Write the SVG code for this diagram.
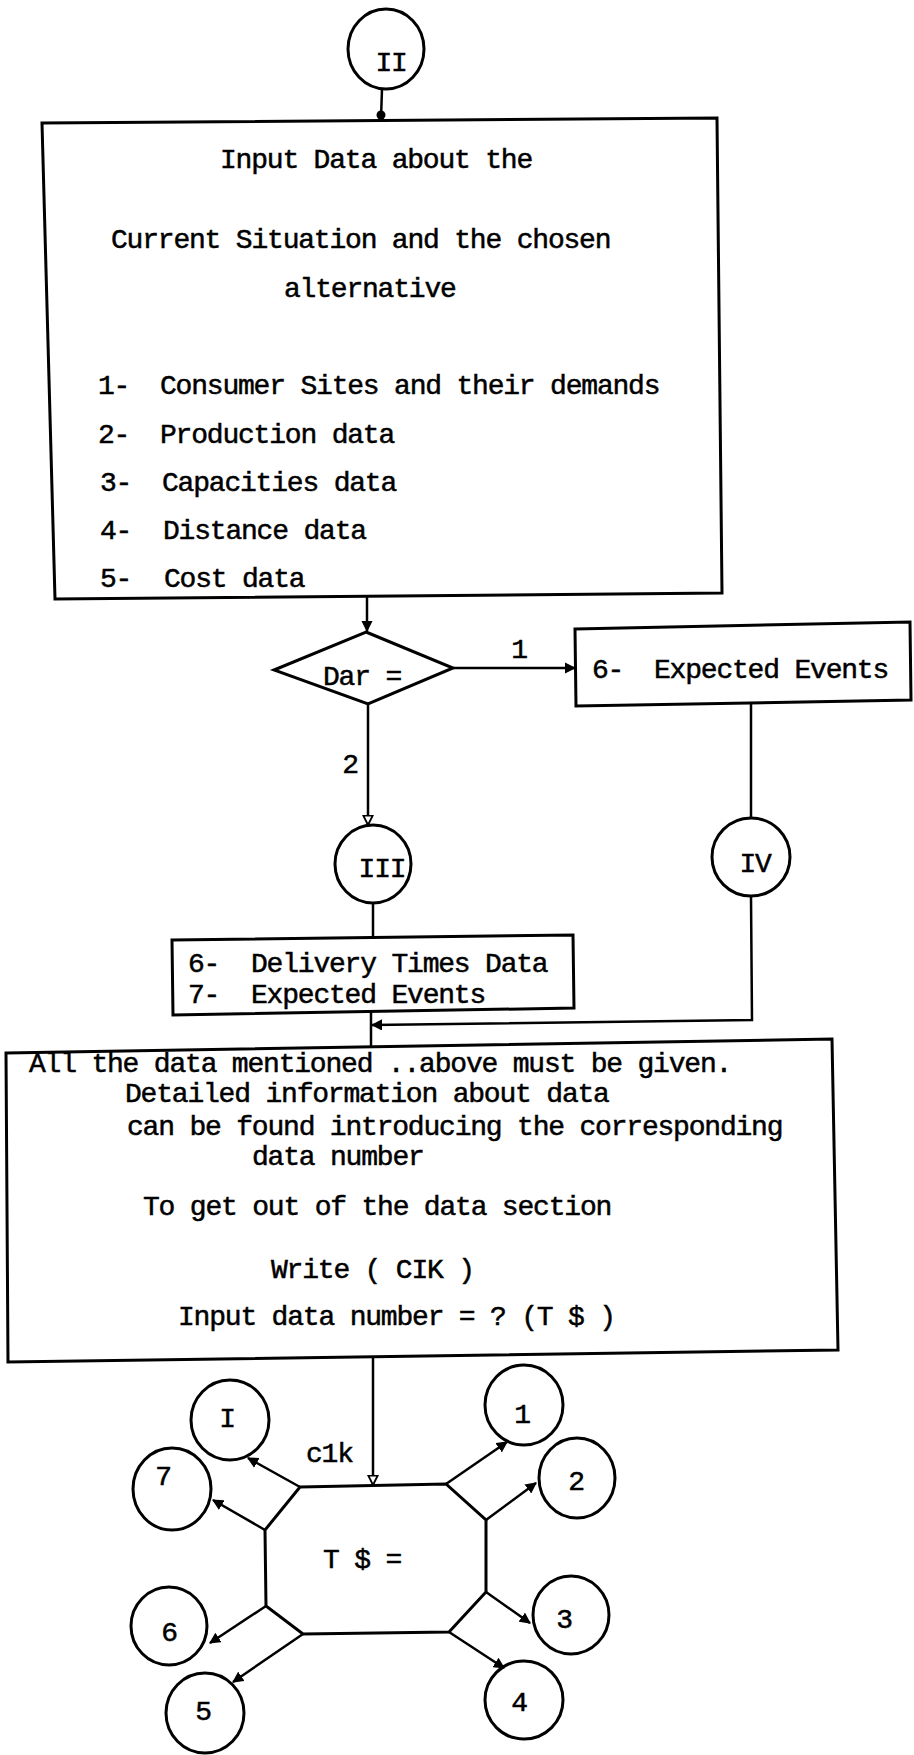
<svg xmlns="http://www.w3.org/2000/svg" width="914" height="1755" viewBox="0 0 914 1755">
<defs>
<style>
text{font-family:"Liberation Mono","Courier New",monospace;font-size:28px;letter-spacing:-1.2px;fill:#000;stroke:#000;stroke-width:0.5}
.c{text-anchor:middle}
.box{fill:none;stroke:#000;stroke-width:3;stroke-linejoin:miter}
.node{fill:none;stroke:#000;stroke-width:3}
.ln{fill:none;stroke:#000;stroke-width:2.5}
.fa{marker-end:url(#fill)}
.oa{marker-end:url(#open)}
</style>
<marker id="fill" viewBox="0 0 10 10" refX="9" refY="5" markerWidth="4.5" markerHeight="4.5" orient="auto" markerUnits="strokeWidth">
<path d="M0,0 L10,5 L0,10 z" fill="#000"/>
</marker>
<marker id="open" viewBox="0 0 12 12" refX="11" refY="6" markerWidth="4.5" markerHeight="4.5" orient="auto" markerUnits="strokeWidth">
<path d="M1,1 L11,6 L1,11 z" fill="#fff" stroke="#000" stroke-width="2"/>
</marker>
</defs>
<rect width="914" height="1755" fill="#fff"/>

<g id="connectors">
<line class="ln" x1="382" y1="89" x2="381" y2="118"/>
<circle cx="381" cy="115" r="4.5" fill="#000"/>
<line class="ln fa" x1="367" y1="596" x2="367" y2="631"/>
<line class="ln fa" x1="453" y1="668" x2="575" y2="668"/>
<line class="ln oa" x1="368" y1="704" x2="368" y2="825"/>
<line class="ln" x1="373" y1="903" x2="373" y2="938"/>
<line class="ln" x1="751" y1="703" x2="751" y2="818"/>
<polyline class="ln fa" points="751,897 752,1020 372,1025"/>
<line class="ln" x1="371" y1="1012" x2="371" y2="1046"/>
<line class="ln oa" x1="373" y1="1357" x2="373" y2="1485"/>
<line class="ln fa" x1="300" y1="1487" x2="248" y2="1458"/>
<line class="ln fa" x1="265" y1="1530" x2="213" y2="1500"/>
<line class="ln fa" x1="446" y1="1484" x2="507" y2="1442"/>
<line class="ln fa" x1="486" y1="1520" x2="536" y2="1483"/>
<line class="ln fa" x1="486" y1="1592" x2="530" y2="1623"/>
<line class="ln fa" x1="449" y1="1632" x2="504" y2="1668"/>
<line class="ln fa" x1="303" y1="1634" x2="233" y2="1682"/>
<line class="ln fa" x1="266" y1="1606" x2="210" y2="1643"/>
<text class="c" x="519" y="658">1</text>
<text class="c" x="350" y="773">2</text>
<text x="306" y="1462">c1k</text>
</g>

<g id="node-II">
<ellipse class="node" cx="386" cy="49" rx="38" ry="40"/>
<text class="c" x="391" y="71">II</text>
</g>

<g id="node-input">
<polygon class="box" points="42,123 717,118 722,593 55,599"/>
<text x="220" y="168">Input Data about the</text>
<text x="111" y="248">Current Situation and the chosen</text>
<text x="284" y="297">alternative</text>
<text x="98" y="394">1-</text><text x="160" y="394">Consumer Sites and their demands</text>
<text x="98" y="443">2-</text><text x="160" y="443">Production data</text>
<text x="100" y="491">3-</text><text x="162" y="491">Capacities data</text>
<text x="100" y="539">4-</text><text x="163" y="539">Distance data</text>
<text x="100" y="587">5-</text><text x="164" y="587">Cost data</text>
</g>

<g id="node-dar">
<polygon class="box" points="366,632 453,668 368,704 274,670"/>
<text x="323" y="685">Dar =</text>
</g>

<g id="node-expected">
<polygon class="box" points="575,629 910,622 911,700 576,706"/>
<text x="592" y="678">6-</text><text x="654" y="678">Expected Events</text>
</g>

<g id="node-III">
<ellipse class="node" cx="373" cy="864" rx="38" ry="39"/>
<text class="c" x="382" y="877">III</text>
</g>

<g id="node-IV">
<ellipse class="node" cx="751" cy="857" rx="39" ry="39"/>
<text class="c" x="755" y="872">IV</text>
</g>

<g id="node-delivery">
<polygon class="box" points="172,940 573,935 574,1008 173,1015"/>
<text x="188" y="972">6-</text><text x="251" y="972">Delivery Times Data</text>
<text x="188" y="1003">7-</text><text x="251" y="1003">Expected Events</text>
</g>

<g id="node-info">
<polygon class="box" points="6,1053 832,1039 838,1350 8,1362"/>
<text x="29" y="1072">All the data mentioned ..above must be given.</text>
<text x="125" y="1102">Detailed information about data</text>
<text x="127" y="1135">can be found introducing the corresponding</text>
<text x="252" y="1165">data number</text>
<text x="143" y="1215">To get out of the data section</text>
<text x="271" y="1278">Write ( CIK )</text>
<text x="178" y="1325">Input data number = ? (T $ )</text>
</g>

<g id="node-ts">
<polygon class="box" points="300,1487 446,1484 486,1520 486,1592 449,1632 303,1634 266,1606 265,1530"/>
<text x="323" y="1568">T $ =</text>
</g>

<g id="node-I"><ellipse class="node" cx="230" cy="1420" rx="39" ry="40"/><text class="c" x="227" y="1427">I</text></g>
<g id="node-7"><ellipse class="node" cx="172" cy="1489" rx="39" ry="41"/><text class="c" x="163" y="1485">7</text></g>
<g id="node-1"><ellipse class="node" cx="524" cy="1405" rx="39" ry="40"/><text class="c" x="522" y="1423">1</text></g>
<g id="node-2"><ellipse class="node" cx="577" cy="1478" rx="38" ry="40"/><text class="c" x="576" y="1490">2</text></g>
<g id="node-3"><ellipse class="node" cx="571" cy="1615" rx="38" ry="39"/><text class="c" x="564" y="1628">3</text></g>
<g id="node-4"><ellipse class="node" cx="524" cy="1700" rx="39" ry="39"/><text class="c" x="519" y="1711">4</text></g>
<g id="node-5"><ellipse class="node" cx="205" cy="1713" rx="39" ry="40"/><text class="c" x="203" y="1720">5</text></g>
<g id="node-6"><ellipse class="node" cx="169" cy="1626" rx="38" ry="39"/><text class="c" x="169" y="1641">6</text></g>
</svg>
